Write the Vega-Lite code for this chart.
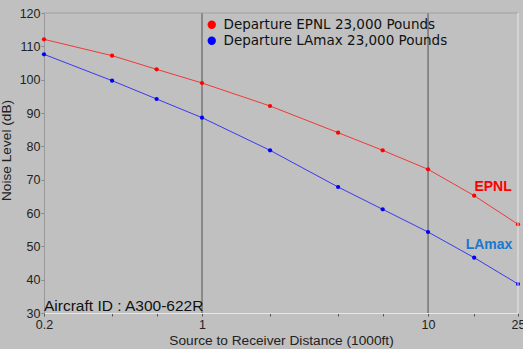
{
  "$schema": "https://vega.github.io/schema/vega-lite/v6.json",
  "width": 474,
  "height": 300,
  "autosize": {"type": "none"},
  "padding": {"left": 44, "top": 13, "right": 5, "bottom": 36},
  "background": "#c0c0c0",
  "config": {
    "view": {"stroke": null, "fill": "#c0c0c0"},
    "font": "Liberation Sans"
  },
  "datasets": {
    "noise": [
      {"series": "Departure EPNL 23,000 Pounds", "dist": 0.2, "level": 112.1},
      {"series": "Departure EPNL 23,000 Pounds", "dist": 0.4, "level": 107.2},
      {"series": "Departure EPNL 23,000 Pounds", "dist": 0.63, "level": 103.1},
      {"series": "Departure EPNL 23,000 Pounds", "dist": 1, "level": 99.0},
      {"series": "Departure EPNL 23,000 Pounds", "dist": 2, "level": 92.1},
      {"series": "Departure EPNL 23,000 Pounds", "dist": 4, "level": 84.1},
      {"series": "Departure EPNL 23,000 Pounds", "dist": 6.3, "level": 78.8},
      {"series": "Departure EPNL 23,000 Pounds", "dist": 10, "level": 73.1},
      {"series": "Departure EPNL 23,000 Pounds", "dist": 16, "level": 65.2},
      {"series": "Departure EPNL 23,000 Pounds", "dist": 25, "level": 56.6},
      {"series": "Departure LAmax 23,000 Pounds", "dist": 0.2, "level": 107.6},
      {"series": "Departure LAmax 23,000 Pounds", "dist": 0.4, "level": 99.7},
      {"series": "Departure LAmax 23,000 Pounds", "dist": 0.63, "level": 94.2},
      {"series": "Departure LAmax 23,000 Pounds", "dist": 1, "level": 88.6},
      {"series": "Departure LAmax 23,000 Pounds", "dist": 2, "level": 78.8},
      {"series": "Departure LAmax 23,000 Pounds", "dist": 4, "level": 67.8},
      {"series": "Departure LAmax 23,000 Pounds", "dist": 6.3, "level": 61.1},
      {"series": "Departure LAmax 23,000 Pounds", "dist": 10, "level": 54.3},
      {"series": "Departure LAmax 23,000 Pounds", "dist": 16, "level": 46.6},
      {"series": "Departure LAmax 23,000 Pounds", "dist": 25, "level": 38.7}
    ],
    "refs": [{"dist": 1}, {"dist": 10}]
  },
  "layer": [
    {
      "data": {"name": "refs"},
      "mark": {"type": "rule", "color": "#505050", "strokeWidth": 1},
      "encoding": {
        "x": {"field": "dist", "type": "quantitative",
          "scale": {"type": "log", "domain": [0.2, 25], "nice": false},
          "axis": {
            "values": [0.2, 0.4, 0.63, 1, 2, 4, 6.3, 10, 16, 25],
            "labelExpr": "indexof([0.2,1,10,25], datum.value) >= 0 ? format(datum.value, '') : ''",
            "title": "Source to Receiver Distance (1000ft)",
            "titleFont": "Liberation Sans", "titleFontSize": 13.7, "titleFontWeight": "normal",
            "titleColor": "#222222", "titlePadding": 3,
            "labelFontSize": 12.5, "labelColor": "#222222", "labelPadding": 2,
            "labelFlush": false, "labelOverlap": false,
            "tickSize": 3, "tickColor": "#555555",
            "domainColor": "#e8e8e8", "grid": false
          }
        }
      }
    },
    {
      "data": {"values": [{"level": 120}]},
      "mark": {"type": "rule", "color": "#a0a0a0", "strokeWidth": 1},
      "encoding": {
        "y": {"field": "level", "type": "quantitative",
          "scale": {"domain": [30, 120], "nice": false, "zero": false},
          "axis": {
            "values": [30, 40, 50, 60, 70, 80, 90, 100, 110, 120],
            "tickCount": 10,
            "title": "Noise Level (dB)",
            "titleFont": "Liberation Sans", "titleFontSize": 13.7, "titleFontWeight": "normal",
            "titleColor": "#222222", "titleX": -31, "titleY": 137,
            "labelFontSize": 12.5, "labelColor": "#222222", "labelPadding": 1,
            "labelFlush": false, "labelOverlap": false,
            "tickSize": 3, "tickColor": "#888888",
            "domainColor": "#999999", "grid": false
          }
        }
      }
    },
    {
      "data": {"name": "noise"},
      "mark": {"type": "line", "strokeWidth": 1, "opacity": 0.7},
      "encoding": {
        "x": {"field": "dist", "type": "quantitative"},
        "y": {"field": "level", "type": "quantitative"},
        "color": {"field": "series", "type": "nominal", "legend": null,
          "scale": {"domain": ["Departure EPNL 23,000 Pounds", "Departure LAmax 23,000 Pounds"], "range": ["#ff0000", "#0000ff"]}}
      }
    },
    {
      "data": {"name": "noise"},
      "mark": {"type": "point", "filled": true, "shape": "circle", "size": 18, "opacity": 1},
      "encoding": {
        "x": {"field": "dist", "type": "quantitative"},
        "y": {"field": "level", "type": "quantitative"},
        "color": {"field": "series", "type": "nominal",
          "scale": {"domain": ["Departure EPNL 23,000 Pounds", "Departure LAmax 23,000 Pounds"], "range": ["#ff0000", "#0000ff"]},
          "legend": {
            "orient": "none", "legendX": 161, "legendY": 5, "title": null,
            "symbolType": "circle", "symbolSize": 70, "symbolOpacity": 1,
            "labelFont": "DejaVu Sans", "labelFontSize": 13.5, "labelColor": "#111111",
            "labelOffset": 5, "rowPadding": 1, "padding": 0, "labelLimit": 300
          }
        }
      }
    },
    {
      "data": {"values": [
        {"label": "EPNL", "dist": 19.4, "level": 67.8},
        {"label": "LAmax", "dist": 18.6, "level": 50.4}
      ]},
      "mark": {"type": "text", "fontWeight": "bold", "fontSize": 14, "font": "Liberation Sans", "align": "center", "baseline": "middle"},
      "encoding": {
        "x": {"field": "dist", "type": "quantitative"},
        "y": {"field": "level", "type": "quantitative"},
        "text": {"field": "label"},
        "color": {"field": "label", "type": "nominal", "legend": null,
          "scale": {"domain": ["EPNL", "LAmax"], "range": ["#ff0000", "#1878d0"]}}
      }
    },
    {
      "data": {"values": [{"label": "Aircraft ID : A300-622R", "dist": 0.2, "level": 30.75}]},
      "mark": {"type": "text", "fontSize": 15.5, "font": "Liberation Sans", "align": "left", "baseline": "alphabetic", "dx": 0, "color": "#111111"},
      "encoding": {
        "x": {"field": "dist", "type": "quantitative"},
        "y": {"field": "level", "type": "quantitative"},
        "text": {"field": "label"}
      }
    },
    {
      "data": {"values": [{"dist": 25}]},
      "mark": {"type": "rule", "color": "#e8e8e8", "strokeWidth": 1},
      "encoding": {"x": {"field": "dist", "type": "quantitative"}}
    }
  ],
  "resolve": {"scale": {"color": "independent"}}
}
